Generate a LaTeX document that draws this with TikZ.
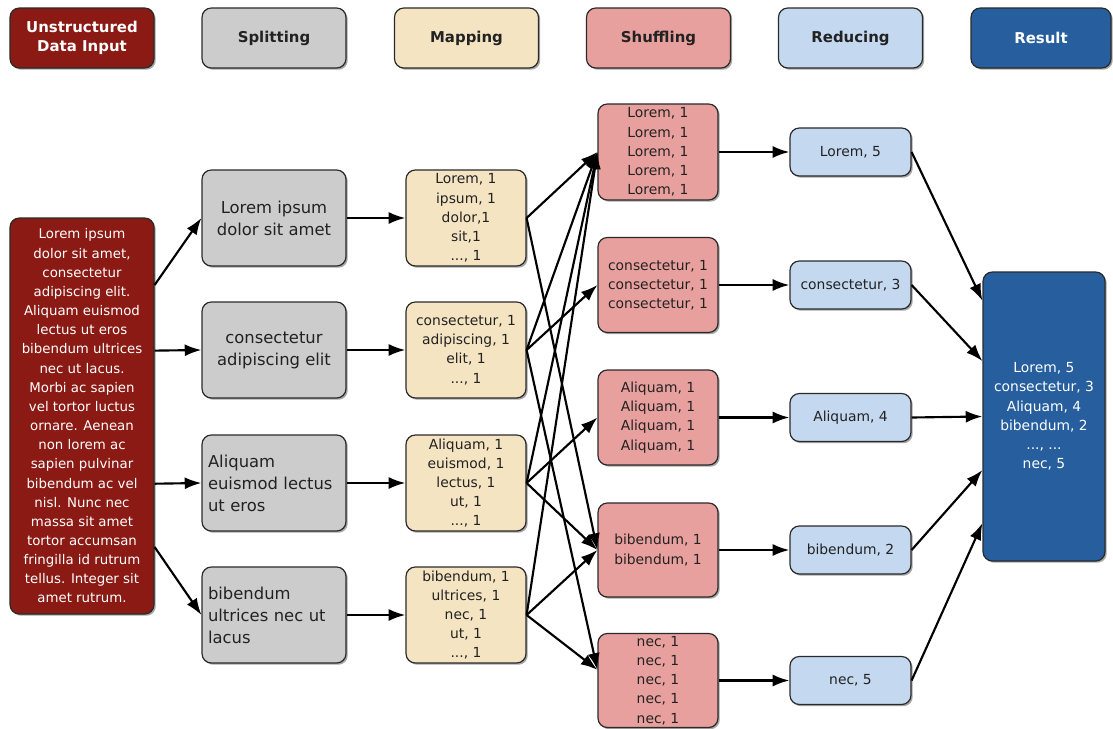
\documentclass[tikz,border=0pt]{standalone}
\usepackage{fontspec}
\setmainfont{DejaVu Sans}
\usetikzlibrary{arrows.meta,shadows}

\definecolor{inred}{HTML}{8B1A14}
\definecolor{splitgray}{HTML}{CCCCCC}
\definecolor{mapbeige}{HTML}{F4E4C2}
\definecolor{shufpink}{HTML}{E8A09E}
\definecolor{redblue}{HTML}{C4D8F0}
\definecolor{resblue}{HTML}{265E9E}
\definecolor{edge}{HTML}{2A2A2A}
\definecolor{ink}{HTML}{222222}

\begin{document}
\begin{tikzpicture}[x=0.75pt,y=-0.75pt,
  card/.style={draw=edge, line width=0.9pt, rounded corners=7pt, inner sep=0pt,
    align=center, text=ink,
    drop shadow={shadow xshift=1.3pt, shadow yshift=-1.3pt, opacity=0.35, fill=black}},
  head/.style={card, minimum width=108pt, minimum height=45pt,
    font=\bfseries\fontsize{11.2}{13.8}\selectfont},
  small/.style={font=\fontsize{10.4}{14.4}\selectfont},
  splitbox/.style={card, fill=splitgray, minimum width=108pt, minimum height=72pt,
    font=\fontsize{12.3}{16.5}\selectfont},
  mapbox/.style={card, small, fill=mapbeige, minimum width=90pt, minimum height=72pt},
  shufbox/.style={card, small, fill=shufpink, minimum width=90pt},
  redbox/.style={card, small, fill=redblue, minimum width=90.75pt, minimum height=36pt},
  flow/.style={draw=black, line width=1.6pt, -{Latex[length=12.5pt,width=9pt]}}
]
\useasboundingbox[fill=white] (0,0) rectangle (1113,728);

% column headers
\node[head, fill=inred, text=white] (hIn) at (82,38) {Unstructured\\Data Input};
\node[head, fill=splitgray] (hSplit) at (274,38) {Splitting};
\node[head, fill=mapbeige] (hMap) at (466.5,38) {Mapping};
\node[head, fill=shufpink] (hShuf) at (658.5,38) {Shuffling};
\node[head, fill=redblue] (hRed) at (850.5,38) {Reducing};
\node[head, fill=resblue, text=white, minimum width=105pt] (hRes) at (1041,38) {Result};

% input text
\node[card, fill=inred, text=white, minimum width=108pt, minimum height=297pt,
      font=\fontsize{10}{14.37}\selectfont] (in) at (82,416)
  {Lorem ipsum\\dolor sit amet,\\consectetur\\adipiscing elit.\\Aliquam euismod\\
   lectus ut eros\\bibendum ultrices\\nec ut lacus.\\Morbi ac sapien\\vel tortor luctus\\
   ornare. Aenean\\non lorem ac\\sapien pulvinar\\bibendum ac vel\\nisl. Nunc nec\\
   massa sit amet\\tortor accumsan\\fringilla id rutrum\\tellus. Integer sit\\amet rutrum.};

% splitting
\node[splitbox] (sp1) at (274,218) {Lorem ipsum\\dolor sit amet};
\node[splitbox] (sp2) at (274,350) {consectetur\\adipiscing elit};
\node[splitbox, align=left, text width=99pt, inner xsep=4.5pt] (sp3) at (274,483)
  {Aliquam\\euismod lectus\\ut eros};
\node[splitbox, align=left, text width=99pt, inner xsep=4.5pt] (sp4) at (274,615)
  {bibendum\\ultrices nec ut\\lacus};

% mapping
\node[mapbox] (m1) at (466,218) {Lorem, 1\\ipsum, 1\\dolor,1\\sit,1\\..., 1};
\node[mapbox] (m2) at (466,350) {consectetur, 1\\adipiscing, 1\\elit, 1\\..., 1};
\node[mapbox] (m3) at (466,483) {Aliquam, 1\\euismod, 1\\lectus, 1\\ut, 1\\..., 1};
\node[mapbox] (m4) at (466,615) {bibendum, 1\\ultrices, 1\\nec, 1\\ut, 1\\..., 1};

% shuffling
\node[shufbox, minimum height=72pt] (s1) at (658,152)
  {Lorem, 1\\Lorem, 1\\Lorem, 1\\Lorem, 1\\Lorem, 1};
\node[shufbox, minimum height=71.25pt] (s2) at (658,285)
  {consectetur, 1\\consectetur, 1\\consectetur, 1};
\node[shufbox, minimum height=71.25pt] (s3) at (658,417.5)
  {Aliquam, 1\\Aliquam, 1\\Aliquam, 1\\Aliquam, 1};
\node[shufbox, minimum height=70.5pt] (s4) at (658,550) {bibendum, 1\\bibendum, 1};
\node[shufbox, minimum height=70.5pt] (s5) at (658,680.5)
  {nec, 1\\nec, 1\\nec, 1\\nec, 1\\nec, 1};

% reducing
\node[redbox] (r1) at (850.5,152) {Lorem, 5};
\node[redbox] (r2) at (850.5,285) {consectetur, 3};
\node[redbox] (r3) at (850.5,417.5) {Aliquam, 4};
\node[redbox] (r4) at (850.5,550) {bibendum, 2};
\node[redbox] (r5) at (850.5,680.5) {nec, 5};

% result
\node[card, small, fill=resblue, text=white, minimum width=91.5pt, minimum height=216.75pt]
  (res) at (1044,416.5)
  {Lorem, 5\\consectetur, 3\\Aliquam, 4\\bibendum, 2\\..., ...\\nec, 5};

% input -> splitting
\draw[flow] (in.61) -- (sp1.west);
\draw[flow] (in.42.5) -- (sp2.west);
\draw[flow] (in.-43) -- (sp3.west);
\draw[flow] (in.-61.4) -- (sp4.west);

% splitting -> mapping
\foreach \k in {1,2,3,4} \draw[flow] (sp\k.east) -- (m\k.west);

% mapping -> shuffling
\draw[flow] (m1.east) -- (s1.west);
\draw[flow] (m1.east) -- (s4.west);
\draw[flow] (m2.east) -- (s1.west);
\draw[flow] (m2.east) -- (s2.west);
\draw[flow] (m2.east) -- (s5.170);
\draw[flow] (m3.east) -- (s1.west);
\draw[flow] (m3.east) -- (s3.west);
\draw[flow] (m3.east) -- (s4.west);
\draw[flow] (m4.east) -- (s1.west);
\draw[flow] (m4.east) -- (s4.west);
\draw[flow] (m4.east) -- (s5.170);

% shuffling -> reducing
\foreach \k in {1,2,3,4,5} \draw[flow] (s\k.east) -- (r\k.west);

% reducing -> result
\draw[flow] (r1.east) -- (res.118.7);
\draw[flow] (r2.east) -- (res.138.2);
\draw[flow] (r3.east) -- (res.west);
\draw[flow] (r4.east) -- (res.221.25);
\draw[flow] (r5.east) -- (res.240.65);
\end{tikzpicture}
\end{document}
